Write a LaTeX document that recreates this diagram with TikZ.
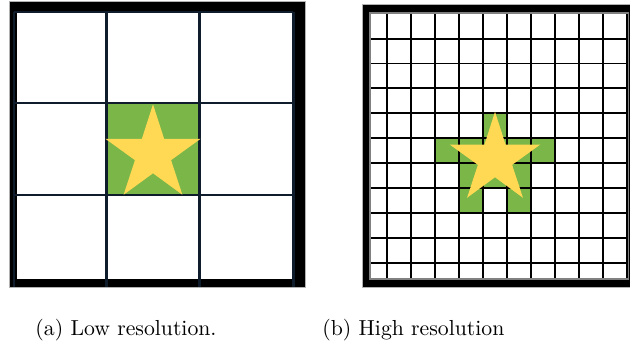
\documentclass[tikz,border=0pt]{standalone}
\definecolor{cellgreen}{HTML}{7AB648}
\definecolor{staryellow}{HTML}{FFD954}
\definecolor{gridnavy}{HTML}{0E1C2C}
\newcommand\starfill[4]{% cx, cy, outer, inner
  \fill[staryellow] (#1,#2) +(-90:#3)
    \foreach \k in {1,...,9} {-- +(-90-36*\k:{ifthenelse(isodd(\k),#4,#3)})} -- cycle;}

\begin{document}
\begin{tikzpicture}[x=0.46pt,y=-0.46pt,
  frame/.style={fill=black,draw=gray!60,line width=.3pt},
  coarse/.style={gridnavy,line width=1.15pt},
  fine/.style={black,line width=.9pt},
  caption/.style={anchor=base,inner sep=0pt}]
  \useasboundingbox (0,0) rectangle (630,349);

  % low resolution
  \filldraw[frame] (9,1) rectangle (305,287);
  \fill[white] (17,13) rectangle (295,279);
  \fill[cellgreen] (106.3,103) rectangle (199.7,195);
  \foreach \x in {14,106.3,199.7,293.3} \draw[coarse] (\x,12) -- (\x,287);
  \foreach \y in {12,103,195} \draw[coarse] (14,\y) -- (293.3,\y);
  \starfill{153}{154.3}{50}{19}

  % high resolution
  \filldraw[frame] (362,4) rectangle (640,287);
  \fill[white] (370,13.3) rectangle (628.5,279.3);
  \foreach \c/\r in {4/3,2/4,3/4,4/4,5/4,6/4,3/5,4/5,5/5,3/6,5/6}
    \fill[cellgreen] (386.7+24*\c,38.6+24.9*\r) rectangle ++(24,24.9);
  \foreach \i in {0,...,10} \draw[fine] (386.7+24*\i,13.3) -- (386.7+24*\i,279.3);
  \foreach \j in {0,...,9} \draw[fine] (370,38.6+24.9*\j) -- (628.5,38.6+24.9*\j);
  \draw[fine,gray] (370,13.3) rectangle (628.5,279.3);
  \starfill{495}{159.3}{47.6}{18}

  \node[caption] (capA) at (126,335) {(a) Low resolution.};
  \node[caption] (capB) at (413.4,335) {(b) High resolution};
\end{tikzpicture}
\end{document}
